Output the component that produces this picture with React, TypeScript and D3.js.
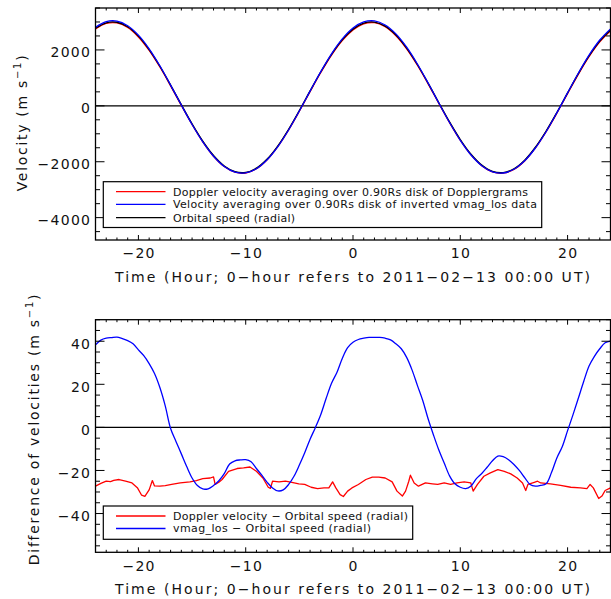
import React from 'react';
import * as d3 from 'd3';

// ---------- data ----------
const hourGrid = [-24,-23,-22,-21,-20,-19,-18,-17,-16,-15,-14,-13,-12,-11,-10,-9,-8,-7,-6,-5,-4,-3,-2,-1,0,1,2,3,4,5,6,7,8,9,10,11,12,13,14,15,16,17,18,19,20,21,22,23,24];

const orbitalSpeed = [2773,2972,2990,2827,2493,2012,1415,743,41,-642,-1262,-1776,-2149,-2356,-2384,-2230,-1904,-1429,-837,-168,533,1219,1843,2363,2744,2960,2997,2851,2534,2066,1479,812,111,-576,-1205,-1731,-2119,-2344,-2389,-2253,-1944,-1482,-900,-237,464,1153,1785,2317,2713];

const dopplerVelocity = [2746,2947,2966,2802,2465,1983,1388,716,15,-667,-1286,-1802,-2172,-2375,-2403,-2251,-1931,-1454,-862,-194,506,1191,1816,2332,2716,2936,2974,2828,2506,2039,1452,786,85,-602,-1231,-1757,-2142,-2365,-2409,-2276,-1972,-1508,-926,-264,437,1125,1758,2286,2685];

const vmagVelocity = [2811,3013,3032,2867,2529,2042,1433,741,28,-667,-1290,-1803,-2170,-2372,-2399,-2249,-1929,-1458,-864,-186,527,1225,1862,2395,2783,3001,3039,2892,2573,2097,1498,816,100,-598,-1233,-1758,-2140,-2359,-2403,-2270,-1967,-1509,-926,-251,462,1166,1814,2354,2753];

const vmagDiffHours = [-24,-23.5,-23,-22.5,-22,-21.5,-21,-20.5,-20,-19.5,-19,-18.5,-18,-17.5,-17,-16.5,-16,-15.5,-15,-14.5,-14,-13.5,-13,-12.5,-12,-11.5,-11,-10.5,-10,-9.5,-9,-8.5,-8,-7.5,-7,-6.5,-6,-5.5,-5,-4.5,-4,-3.5,-3,-2.5,-2,-1.5,-1,-0.5,0,0.5,1,1.5,2,2.5,3,3.5,4,4.5,5,5.5,6,6.5,7,7.5,8,8.5,9,9.5,10,10.5,11,11.5,12,12.5,13,13.5,14,14.5,15,15.5,16,16.5,17,17.5,18,18.5,19,19.5,20,20.5,21,21.5,22,22.5,23,23.5,24];
const vmagDiff = [38.3,40.5,41.4,41.7,41.9,41.2,40.3,38.8,36.0,33.3,29.6,25.0,18.5,10.0,-0.5,-6.5,-12.3,-18.2,-23.5,-27.0,-28.6,-28.5,-27,-24.8,-21.5,-17,-15.5,-15.1,-15,-16,-19.1,-22.2,-25.5,-28.1,-29.5,-29,-26.5,-22.7,-17.5,-11.8,-5.5,0,6,13.5,20.5,25.5,32,37,39.5,40.8,41.4,41.8,41.8,41.8,41.4,40.6,38.8,36.5,32.5,26.7,19.5,12.5,4,-3.5,-10.5,-16.5,-22.5,-26.2,-27.8,-28.4,-27.2,-23.8,-21.4,-18.5,-15.5,-13.3,-13.6,-15,-17.2,-20,-23.3,-26.5,-27.3,-26.9,-26.2,-21,-14.2,-9,-1.5,5.8,13.5,21.3,28.5,33,36.5,39.3,40.1];

const dopplerDiffHours = [-24,-23.5,-23,-22.6,-22.3,-21.8,-21.2,-20.6,-20.1,-19.7,-19.4,-19.0,-18.7,-18.5,-18.0,-17.5,-16.9,-16.1,-15.2,-14.6,-14.0,-13.3,-13.0,-12.85,-12.5,-12.2,-11.6,-10.8,-10.2,-9.6,-9.0,-8.4,-7.9,-7.7,-7.5,-6.9,-6.3,-5.7,-5.05,-4.5,-3.9,-3.3,-2.7,-2.25,-1.9,-1.6,-1.2,-0.9,-0.5,-0.1,0.5,1.2,1.8,2.4,3.0,3.65,4.1,4.6,4.9,5.2,5.35,5.7,6.1,6.75,7.4,7.9,8.5,9.1,9.7,10.36,10.98,11.2,11.6,12.2,12.8,13.5,14.1,14.7,15.3,15.8,16.1,16.3,16.9,17.2,17.5,18.4,19.35,20.3,21.2,21.8,22.1,22.4,22.9,23.2,23.5,24.0];
const dopplerDiff = [-27.3,-26,-25.0,-25.2,-24.6,-24.2,-25.0,-25.8,-28.0,-31.5,-32.0,-29.0,-24.7,-27.2,-27.3,-27.0,-26.5,-25.8,-25.3,-24.7,-23.8,-23.5,-23.0,-26.5,-25.5,-24.2,-20.4,-19.1,-18.8,-18.4,-20.4,-23.5,-27.8,-28.3,-25.0,-25.3,-25.0,-25.5,-26.2,-26.5,-27.8,-28.4,-28.1,-28.1,-25.3,-28.1,-31.2,-32.1,-29.6,-28.1,-26.5,-24.2,-23.1,-23.1,-23.5,-25.3,-29.6,-31.9,-29.6,-25.0,-22.2,-25.8,-27.3,-25.8,-26.2,-26.5,-25.8,-26.5,-25.8,-25.3,-25.8,-29.6,-26.5,-22.7,-21.1,-19.6,-20.4,-21.6,-23.5,-25.8,-29.3,-26.5,-25.5,-25.0,-25.8,-26.2,-26.9,-27.8,-28.1,-28.4,-26.5,-28.1,-33.0,-31.9,-29.3,-28.1];

const xMajorTicks = [-20, -10, 0, 10, 20];
const topYMajorTicks = [-4000, -2000, 0, 2000];
const botYMajorTicks = [-40, -20, 0, 20, 40];

const topLegend = [
  'Doppler velocity averaging over 0.90Rs disk of Dopplergrams',
  'Velocity averaging over 0.90Rs disk of inverted vmag_los data',
  'Orbital speed (radial)',
];
const botLegend = [
  'Doppler velocity \u2212 Orbital speed (radial)',
  'vmag_los \u2212 Orbital speed (radial)',
];
const xTitle = 'Time (Hour; 0\u2212hour refers to 2011\u221202\u221213 00:00 UT)';

// ---------- layout ----------
const W = 611, H = 599;
const X0 = 95.5, X1 = 610.5;
const FONT = 'DejaVu Sans';
const RED = '#ff0000', BLUE = '#0000ff';

const x = d3.scaleLinear().domain([-24, 24]).range([X0, X1]);
const fmt = (v: number) => (v < 0 ? '\u2212' + Math.abs(v) : String(v));

type Series = { xs: number[]; ys: number[]; color: string; curve: any };

function Panel(props: {
  id: string;
  y: d3.ScaleLinear<number, number>;
  yMajor: number[];
  yMinor: number[];
  series: Series[];
  legend: { labels: string[]; colors: string[]; lens: number[]; box: [number, number, number, number]; rowY: number[] };
  yTitle: React.ReactNode;
  yTitleX: number;
  yTitleY: number;
  yTitleLS: number;
}) {
  const { y } = props;
  const [yb, yt] = y.range();
  const xMinor = d3.range(-24, 25, 1).filter((v) => v % 10 !== 0);
  const yMajLen = 9, yMinLen = 4.5, xMajLen = 5, xMinLen = 2.5;
  const line = (s: Series) =>
    d3.line<number>().x((_, i) => x(s.xs[i])).y((d) => y(d)).curve(s.curve)(s.ys) || '';
  const [bx0, by0, bx1, by1] = props.legend.box;
  return (
    <g>
      <defs>
        <clipPath id={props.id}>
          <rect x={X0} y={yt} width={X1 - X0} height={yb - yt} />
        </clipPath>
      </defs>
      {/* zero line */}
      <line x1={X0} x2={X1} y1={y(0)} y2={y(0)} stroke="#000" strokeWidth={1.1} />
      <g clipPath={`url(#${props.id})`}>
        {props.series.map((s, i) => (
          <path key={i} d={line(s)} fill="none" stroke={s.color} strokeWidth={1.3} strokeLinejoin="round" />
        ))}
      </g>
      {/* ticks */}
      <g stroke="#000" strokeWidth={1}>
        {xMajorTicks.map((v) => (
          <g key={'xm' + v}>
            <line x1={x(v)} x2={x(v)} y1={yb} y2={yb - xMajLen} />
            <line x1={x(v)} x2={x(v)} y1={yt} y2={yt + xMajLen} />
          </g>
        ))}
        {xMinor.map((v) => (
          <g key={'xn' + v}>
            <line x1={x(v)} x2={x(v)} y1={yb} y2={yb - xMinLen} />
            <line x1={x(v)} x2={x(v)} y1={yt} y2={yt + xMinLen} />
          </g>
        ))}
        {props.yMajor.map((v) => (
          <g key={'ym' + v}>
            <line x1={X0} x2={X0 + yMajLen} y1={y(v)} y2={y(v)} />
            <line x1={X1} x2={X1 - yMajLen} y1={y(v)} y2={y(v)} />
          </g>
        ))}
        {props.yMinor.map((v) => (
          <g key={'yn' + v}>
            <line x1={X0} x2={X0 + yMinLen} y1={y(v)} y2={y(v)} />
            <line x1={X1} x2={X1 - yMinLen} y1={y(v)} y2={y(v)} />
          </g>
        ))}
      </g>
      {/* legend */}
      <rect x={bx0} y={by0} width={bx1 - bx0} height={by1 - by0} fill="#fff" stroke="#000" strokeWidth={1.2} />
      {props.legend.labels.map((t, i) => (
        <g key={'lg' + i}>
          <line x1={116} x2={165.5} y1={props.legend.rowY[i]} y2={props.legend.rowY[i]} stroke={props.legend.colors[i]} strokeWidth={1.3} />
          <text x={173} y={props.legend.rowY[i] + 3.8} fontSize={11} fontFamily={FONT} textLength={props.legend.lens[i]} lengthAdjust="spacing" fill="#111">
            {t}
          </text>
        </g>
      ))}
      {/* frame */}
      <rect x={X0} y={yt} width={X1 - X0} height={yb - yt} fill="none" stroke="#000" strokeWidth={1.3} />
      {/* tick labels */}
      {xMajorTicks.map((v) => (
        <text key={'xl' + v} x={x(v) + 0.7} y={yb + 18.3} textAnchor="middle" fontSize={14} fontFamily={FONT} letterSpacing={1.3} fill="#111">
          {fmt(v)}
        </text>
      ))}
      {props.yMajor.map((v) => (
        <text key={'yl' + v} x={91.3} y={y(v) + 7.5} textAnchor="end" fontSize={14} fontFamily={FONT} letterSpacing={1.3} fill="#111">
          {fmt(v)}
        </text>
      ))}
      {/* titles */}
      <text x={352.5} y={yb + 41.8} textAnchor="middle" fontSize={14} fontFamily={FONT} textLength={475} lengthAdjust="spacing" fill="#111">
        {xTitle}
      </text>
      <text transform={`translate(${props.yTitleX},${props.yTitleY}) rotate(-90)`} textAnchor="middle" fontSize={14} fontFamily={FONT} letterSpacing={props.yTitleLS} fill="#111">
        {props.yTitle}
      </text>
    </g>
  );
}

export default function App() {
  const yTop = d3.scaleLinear().domain([-4800, 3500]).range([240, 8]);
  const yBot = d3.scaleLinear().domain([-58, 50]).range([552.3, 319.7]);
  const topMinor = d3.range(-4500, 3501, 500).filter((v) => v % 2000 !== 0);
  const botMinor = d3.range(-55, 51, 5).filter((v) => v % 20 !== 0);
  const unit = (
    <>
      (m s<tspan fontSize={10} dy={-6}>{'\u22121'}</tspan>
      <tspan dy={6}>)</tspan>
    </>
  );
  return (
    <svg width={W} height={H} style={{ position: 'absolute', left: 0, top: 0, background: '#fff' }}>
      <rect x={0} y={0} width={W} height={H} fill="#fff" />
      <Panel
        id="clipTop"
        y={yTop}
        yMajor={topYMajorTicks}
        yMinor={topMinor}
        series={[
          { xs: hourGrid, ys: dopplerVelocity, color: RED, curve: d3.curveCatmullRom },
          { xs: hourGrid, ys: orbitalSpeed, color: '#000', curve: d3.curveCatmullRom },
          { xs: hourGrid, ys: vmagVelocity, color: BLUE, curve: d3.curveCatmullRom },
        ]}
        legend={{
          labels: topLegend,
          colors: [RED, BLUE, '#000'],
          lens: [355, 364, 122],
          box: [103.3, 181.7, 541.7, 227.5],
          rowY: [191.7, 204.3, 217.7],
        }}
        yTitle={<>Velocity {unit}</>}
        yTitleX={27}
        yTitleY={122.5}
        yTitleLS={1.7}
      />
      <Panel
        id="clipBot"
        y={yBot}
        yMajor={botYMajorTicks}
        yMinor={botMinor}
        series={[
          { xs: dopplerDiffHours, ys: dopplerDiff, color: RED, curve: d3.curveLinear },
          { xs: vmagDiffHours, ys: vmagDiff, color: BLUE, curve: d3.curveCatmullRom },
        ]}
        legend={{
          labels: botLegend,
          colors: [RED, BLUE],
          lens: [235, 198],
          box: [103.3, 506, 412.7, 539.3],
          rowY: [516, 528.5],
        }}
        yTitle={<>Difference of velocities {unit}</>}
        yTitleX={38.5}
        yTitleY={429}
        yTitleLS={1.75}
      />
    </svg>
  );
}
